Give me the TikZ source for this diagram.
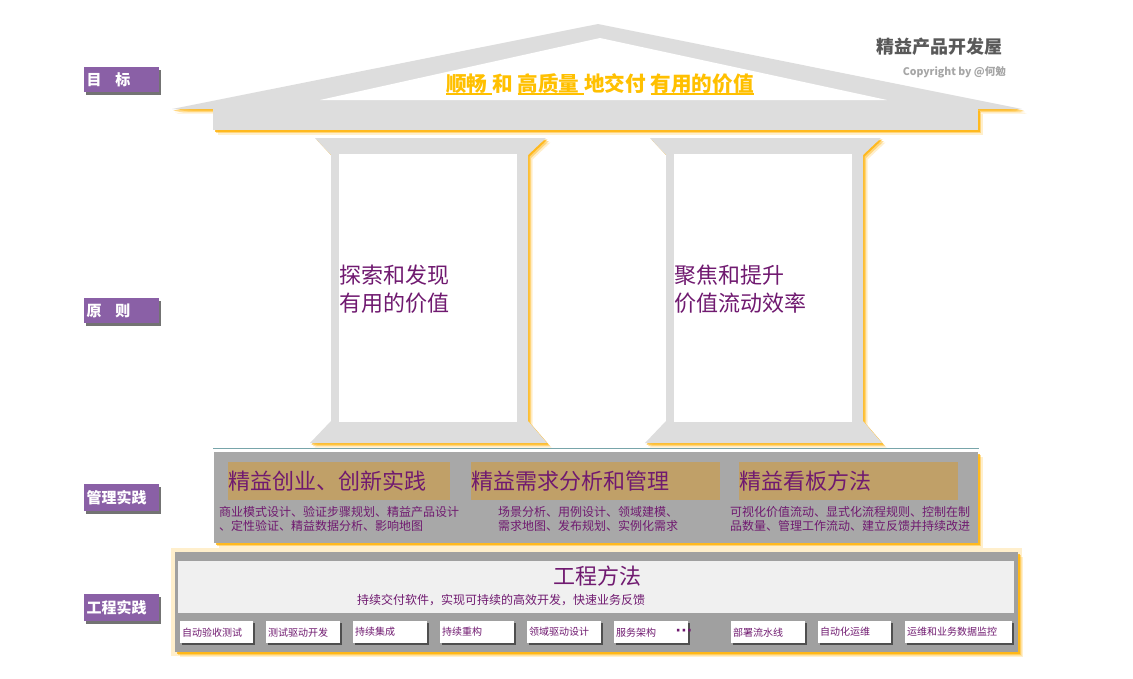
\documentclass[tikz,border=0pt]{standalone}
\usepackage{fontspec}
\setmainfont{Noto Sans CJK SC}
\newfontfamily\djv{DejaVu Sans}
\usetikzlibrary{shadows}
\definecolor{roofc}{RGB}{221,221,221}
\definecolor{glowc}{RGB}{255,176,0}
\definecolor{goldc}{RGB}{255,192,0}
\definecolor{purt}{RGB}{112,26,112}
\definecolor{labp}{RGB}{138,96,166}
\definecolor{tanc}{RGB}{192,160,104}
\definecolor{mgray}{RGB}{168,168,168}
\definecolor{egray}{RGB}{160,160,160}
\definecolor{lightc}{RGB}{240,240,240}
\definecolor{tealc}{RGB}{120,165,170}
\definecolor{headc}{RGB}{89,89,89}
\definecolor{copyc}{RGB}{166,166,166}
\newcommand\myul[1]{\setbox0\hbox{#1}\rlap{\rule[-3.5pt]{\wd0}{1.8pt}}\box0}
\tikzset{
  glow/.style={
    preaction={fill=glowc,fill opacity=0.2,transform canvas={shift={(4.5pt,-4.5pt)}}},
    preaction={fill=glowc,fill opacity=0.4,transform canvas={shift={(3pt,-3pt)}}},
    preaction={fill=glowc,fill opacity=0.75,transform canvas={shift={(1.5pt,-1.5pt)}}}},
  labbox/.style={fill=labp,text=white,font=\bfseries\fontsize{15}{18}\selectfont,
    minimum width=75pt,text width=69pt,align=left,inner xsep=3pt,inner ysep=0pt,
    drop shadow={shadow xshift=2.5pt,shadow yshift=-2.5pt,fill=black,opacity=0.55}},
  tanbox/.style={fill=tanc,text=purt,font=\fontsize{22}{26}\selectfont,
    minimum height=38pt,inner sep=0pt,align=left,anchor=north west},
  desc/.style={text=purt,font=\fontsize{12}{14}\selectfont,inner sep=0pt,align=left,anchor=north west},
  pill/.style={text=purt,font=\fontsize{22}{28}\selectfont,inner sep=0pt,align=left,anchor=west},
  tool/.style={fill=white,text=purt,font=\fontsize{10}{12}\selectfont,inner xsep=2pt,inner ysep=0pt,
    minimum height=22pt,align=left,anchor=north west,
    drop shadow={shadow xshift=2pt,shadow yshift=-2pt,fill=black,opacity=0.5}},
}
\begin{document}
\begin{tikzpicture}[x=1pt,y=-1pt]
\fill[white] (0,0) rectangle (1133,678);
\useasboundingbox (0,0) rectangle (1133,678);
% roof
\path[fill=roofc,glow] (172,109) -- (598,24) -- (1022,109) -- cycle;
\fill[white] (320,100) -- (600,38) -- (887,100) -- cycle;
\path[fill=roofc,glow] (213,109) rectangle (978,130);
\node[font=\bfseries\fontsize{20.6}{24}\selectfont,text=goldc,inner sep=0pt] (goal) at (600,84)
  {\myul{顺畅\ }和\ \myul{高质量\ }地交付\ \myul{有用的价值}};
\node[font=\bfseries\fontsize{18}{22}\selectfont,text=headc,inner sep=0pt,anchor=east] (head) at (1003,47) {精益产品开发屋};
\node[font=\bfseries\fontsize{10.5}{12}\selectfont,text=copyc,inner sep=0pt,anchor=east] (copy) at (1006,72) {Copyright by @何勉};
% pillars
\foreach \d in {0,335}{
  \path[fill=roofc,glow] (315+\d,138) -- (546+\d,138) -- (528+\d,155) -- (528+\d,421) -- (547+\d,443)
     -- (310+\d,443) -- (331+\d,421) -- (331+\d,155) -- cycle;
  \fill[white] (339+\d,154) rectangle (517+\d,422);
}
\node[pill] (p1) at (339,289) {探索和发现\\有用的价值};
\node[pill] (p2) at (674,289) {聚焦和提升\\价值流动效率};
% management
\path[fill=mgray,glow] (214,452) rectangle (978,543);
\draw[tealc,line width=1pt] (213,448) -- (979,448);
\node[tanbox,text width=222pt] (m1) at (228,462) {精益创业、创新实践};
\node[tanbox,text width=249pt] (m2) at (471,462) {精益需求分析和管理};
\node[tanbox,text width=219pt] (m3) at (739,462) {精益看板方法};
\node[desc] (d1) at (219,506.5) {商业模式设计、验证步骤规划、精益产品设计\\、定性验证、精益数据分析、影响地图};
\node[desc] (d2) at (498,506.5) {场景分析、用例设计、领域建模、\\需求地图、发布规划、实例化需求};
\node[desc] (d3) at (730,506.5) {可视化价值流动、显式化流程规则、控制在制\\品数量、管理工作流动、建立反馈并持续改进};
% engineering
\fill[glowc,opacity=0.2] (171,548) rectangle (1022,656);
\path[fill=egray,glow] (175,552) rectangle (1018,652);
\fill[lightc] (178,561) rectangle (1014,613);
\node[text=purt,font=\fontsize{22}{26}\selectfont,inner sep=0pt] (eng) at (597,576) {工程方法};
\node[text=purt,font=\fontsize{12}{14}\selectfont,inner sep=0pt,anchor=west] (engs) at (357,600) {持续交付软件，实现可持续的高效开发，快速业务反馈};
\foreach \x/\w/\t [count=\i] in {180/73/自动验收测试,266/74/测试驱动开发,353/74/持续集成,440/74/持续重构,
   527/74/领域驱动设计,614/74/服务架构,731/74/部署流水线,818/73/自动化运维,905/107/运维和业务数据监控}{
  \node[tool,text width=\w pt-4pt] (t\i) at (\x,621) {\t};
}
\node[text=purt,font=\djv\bfseries\fontsize{14}{16}\selectfont,inner sep=0pt,anchor=base] (dots) at (684,635) {·\kern0.3pt·\kern0.3pt·};
% labels
\node[labbox,minimum height=25pt] (l1) at (121,79.5) {目\hspace{14pt}标};
\node[labbox,minimum height=25pt] (l2) at (121,310.5) {原\hspace{14pt}则};
\node[labbox,minimum height=27pt] (l3) at (121,497.5) {管理实践};
\node[labbox,minimum height=27pt] (l4) at (121,607.5) {工程实践};
\end{tikzpicture}
\end{document}
